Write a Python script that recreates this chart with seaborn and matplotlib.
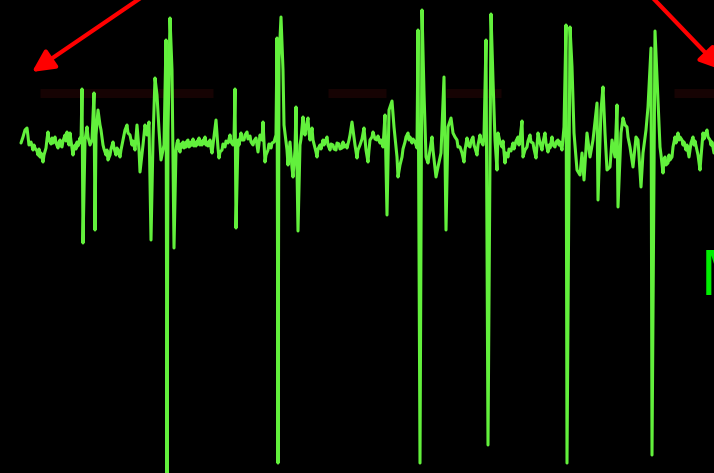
import matplotlib
matplotlib.use("Agg")
import matplotlib.pyplot as plt
import seaborn as sns
import pandas as pd

# EEG trace: sample index vs. deflection (negative-up display convention)
t = [21, 23, 25, 27, 28, 29, 31, 33, 34, 35, 37, 38, 39, 40, 41, 43, 44, 46, 47, 48,
     49, 50, 51, 52, 53, 55, 56, 58, 59, 60, 61, 62, 63, 65, 66, 67, 68, 69, 70, 71,
     73, 74, 75, 76, 77, 78, 80, 81, 82, 83,
     85, 87, 88, 90, 92, 94, 95, 96, 98, 100, 101, 103, 104, 106, 107, 108, 110, 111, 113, 114,
     116, 117, 118, 120, 121, 122, 125, 127, 128, 130, 132, 133, 135, 137, 139, 140, 143, 145, 147, 149,
     151, 153, 155, 157, 159, 161, 164, 166, 167, 168, 170, 172, 174,
     176, 177, 178, 179, 180, 181, 182, 183, 184, 185, 186, 187, 188, 189, 190, 191, 192, 193, 194, 195,
     196, 197, 198, 199, 200, 201, 202, 203, 204, 205, 206, 207, 208, 209, 210, 211, 212, 216,
     218, 219, 220, 222, 223, 225, 226, 228, 229, 230, 231, 233, 234, 235, 236, 238, 239, 241, 242, 244,
     245, 247, 248, 250, 251, 253, 254, 256, 257, 258, 259, 260, 262, 263, 265, 266, 268, 269, 271, 272,
     274, 276, 277, 278, 279, 281, 283, 284, 287, 288, 290, 292, 293, 295, 296, 298,
     300, 301, 303, 304, 305, 306, 308, 309, 310, 311, 312, 313, 315, 316, 317, 318, 320, 321, 323, 324,
     325, 327, 328, 330, 331, 333, 334, 336, 337, 339, 340, 342, 343, 344, 346, 347, 349, 350, 352,
     355, 357, 358, 360, 362, 364, 366, 368, 369, 370, 372, 373, 375, 377, 378, 380, 381, 383, 385, 387,
     389, 392, 394, 397, 398, 400, 402, 403,
     405, 406, 408, 409, 410, 412, 413, 415, 416, 417, 418, 420, 422, 424, 426, 428, 430, 432, 433, 436,
     438, 441, 444, 446, 448, 451,
     453, 455, 457, 458, 460, 462, 464, 465, 467, 468, 470, 471, 473, 474, 475, 477, 478, 480, 481, 483,
     484, 486, 488, 491, 493, 495, 497,
     498, 500, 502, 503, 505, 506, 508, 509, 511, 513, 514, 516, 518, 519, 520, 522, 523, 525, 527, 528,
     530, 531, 533, 534, 536, 537, 538, 540, 542, 543, 545, 546, 548, 549, 550, 552, 553, 555, 556, 558,
     559, 560, 562, 564,
     566, 567, 570, 572, 574, 577, 580, 582, 584, 587, 590, 593, 597, 598, 601, 603, 605, 607, 610, 612,
     615, 617, 618, 621, 623, 625, 627, 628, 630, 633, 636, 638, 641, 643, 646, 648, 651, 652, 655, 657,
     660, 661, 663, 664, 665, 666, 668, 669, 670, 672, 673, 675, 676, 678, 679, 680, 682, 683, 684, 686,
     687, 689, 690, 691, 693, 694, 695, 697, 698, 700, 701, 703, 704, 705, 707, 708, 710, 711, 712, 714]
v = [-2, -8, -15, -17, -8, 0, -3, 5, 0, 3, 6, 10, 4, 12, 8, 17, 10, 3, -6, -13,
     -4, -5, -1, -7, -2, -8, -2, 3, -3, -5, 1, 2, -4, -10, -4, -13, -5, 0, -12, -4,
     10, 3, 0, 4, -3, 1, -7, -2, -56, 98,
     -5, -18, -8, 0, -5, -52, 85, -10, -35, -20, -15, 0, 4, 10, 5, 15, 10, 4, -3, 3,
     10, 3, 5, 12, 5, 0, -15, -20, -12, -10, 0, -4, 5, -20, 5, 27, 0, -20, -10, -23,
     95, -5, -67, -50, -15, 15, 0, -105, 335, -15, -127, -75, 103,
     5, -2, -5, 4, 7, -1, 2, -3, 3, -2, 2, -4, -5, 2, 1, -3, 0, -6, 1, -2,
     1, -4, -1, -7, 0, -3, 0, -5, -2, -8, 0, -3, 1, -2, -5, 3, 8, -25,
     3, 13, 7, 5, -1, 2, -4, -2, -6, -10, -3, 0, -5, -56, 83, -5, 0, -12, -5, -5,
     -10, -13, -6, -9, -3, 0, -4, -7, 0, 7, -2, -10, -5, -23, 17, 10, 5, -1, 3, -2,
     -3, -10, -107, 318, -85, -128, -75, -20, 5, 20, -3, 23, 32, 5, -38, 86,
     0, -6, -28, -15, -10, -18, -27, -12, -5, -10, -17, -5, 3, 7, 12, 4, 0, 4, -5, 0,
     -3, -8, 0, 5, -1, 0, 4, 5, -2, -1, 4, 3, -3, 2, 0, 3, -5, -10, -23,
     0, 13, 5, 0, -6, -17, 5, 17, 5, -5, -8, -13, -6, -5, -9, -2, -5, 2, -30, 70,
     -35, -44, -18, 12, 32, 20, 12, 4,
     -3, -8, -12, -5, -8, -2, -6, -3, 0, 3, -115, 318, -135, -52, 12, 18, 5, -8, 5, 32,
     22, 8, -68, 85, -18, -27,
     -12, -8, -5, 2, 2, 8, 17, 5, -7, 0, 2, -4, -8, 0, 3, 10, 0, -10, -4, 0,
     -8, -105, 300, -131, -65, -5, 25,
     -12, -3, 2, -4, 18, 8, 12, 4, 6, -2, 4, -4, -8, 0, -6, -24, 12, 5, 2, -4,
     -10, -3, -2, 4, 13, 0, -12, -2, 5, -3, -12, -2, 7, 0, 3, -8, 0, 2, -3, -5,
     0, -3, 5, -18,
     -120, 318, -118, -78, -12, 25, 30, 8, 35, -12, 12, -5, -42, 55, -35, -58, -12, 25, 22, -5,
     12, -40, 62, -12, -27, -20, -18, -8, 2, 22, -8, -5, 42, 8, -15, -38, -97, 310, -114, -68,
     2, 10, 28, 15, 12, 20, 18, 10, 15, 12, 2, -8, -2, -12, -5, -8, -5, 0, -3, 5,
     0, 12, 5, -2, -8, 0, -4, 5, 10, 25, 12, -12, -6, -10, -15, -8, -5, 0, -3, 8]

# Marked epochs (start, end) drawn as dim bands above the trace
band_start = [40, 328, 446, 674]
band_end = [213, 386, 501, 714]
band_level = -52

# Arrows pointing at the marked epochs: (tail_t, tail_v) -> (tip_t, tip_v)
arrow_tail = [(145, -150), (650, -150)]
arrow_tip = [(32, -73), (722, -75)]

label_text = "M"

sns.set_theme(style="dark")
plt.rcParams["font.family"] = ["Liberation Sans", "DejaVu Sans"]

fig = plt.figure(figsize=(7.14, 4.73), dpi=100, facecolor="black")
ax = fig.add_axes([0, 0, 1, 1])
ax.set_facecolor("black")

df = pd.DataFrame({"t": t, "v": v})

for s, e in zip(band_start, band_end):
    ax.plot([s, e], [band_level, band_level], color="#160303", lw=6.5,
            solid_capstyle="butt", zorder=1)

sns.lineplot(data=df, x="t", y="v", sort=False, estimator=None, ax=ax,
             color="#62f03c", lw=2.2, zorder=3)

for (tx, tv), (hx, hv) in zip(arrow_tail, arrow_tip):
    ax.annotate("", xy=(hx, hv), xytext=(tx, tv),
                arrowprops=dict(arrowstyle="-|>,head_length=1.1,head_width=0.55",
                                color="#ff0000", lw=3.0, shrinkA=0, shrinkB=0),
                annotation_clip=False, zorder=4)

ax.text(701, 150, label_text, color="#00ee00", fontsize=46,
        ha="left", va="baseline", zorder=5)

ax.set_xlim(0, 714)
ax.set_ylim(328, -145)
ax.set_axis_off()

fig.savefig("out.png", dpi=100, facecolor="black")
